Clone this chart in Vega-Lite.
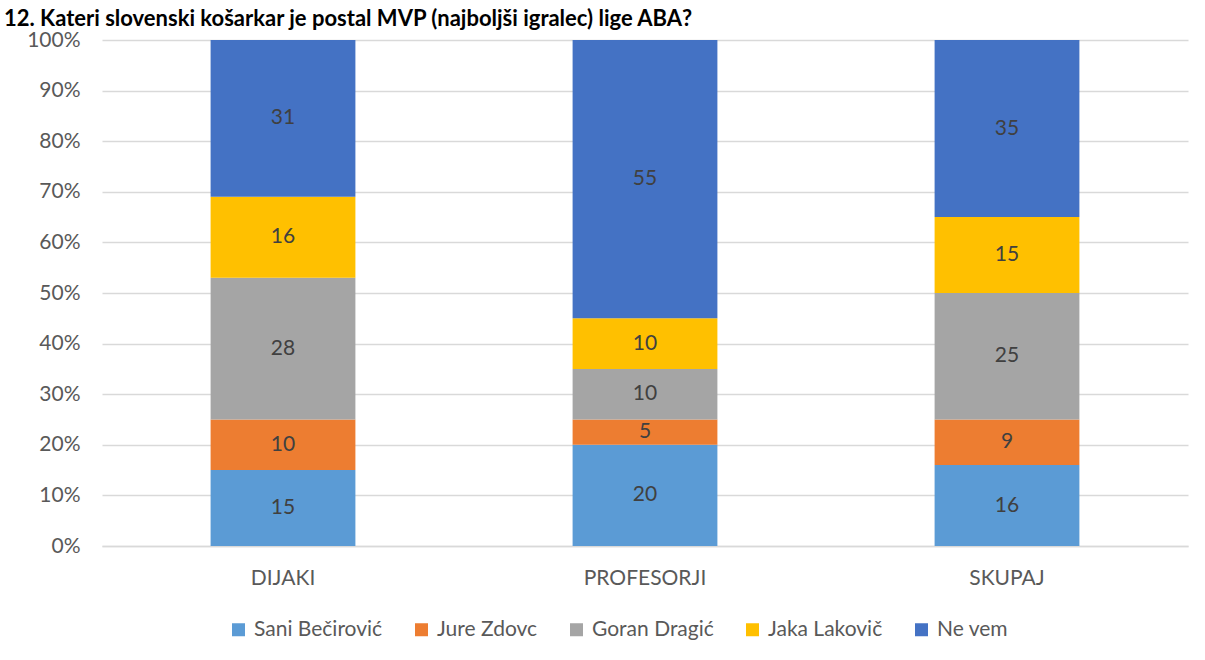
{
  "$schema": "https://vega.github.io/schema/vega-lite/v6.json",
  "width": 1086,
  "height": 506,
  "autosize": {"type": "none"},
  "padding": {"left": 102, "top": 40, "right": 17, "bottom": 114},
  "background": "white",
  "title": {
    "text": "12. Kateri slovenski košarkar je postal MVP (najboljši igralec) lige ABA?",
    "anchor": "start",
    "frame": "group",
    "dx": -98,
    "offset": 0,
    "dy": 19,
    "baseline": "alphabetic",
    "font": "Lato",
    "fontSize": 22,
    "fontWeight": "bold",
    "color": "#000000"
  },
  "config": {
    "view": {"stroke": null},
    "font": "Lato"
  },
  "data": {
    "values": [
      {"skupina": "DIJAKI", "odgovor": "Sani Bečirović", "o": 1, "n": 15},
      {"skupina": "DIJAKI", "odgovor": "Jure Zdovc", "o": 2, "n": 10},
      {"skupina": "DIJAKI", "odgovor": "Goran Dragić", "o": 3, "n": 28},
      {"skupina": "DIJAKI", "odgovor": "Jaka Lakovič", "o": 4, "n": 16},
      {"skupina": "DIJAKI", "odgovor": "Ne vem", "o": 5, "n": 31},
      {"skupina": "PROFESORJI", "odgovor": "Sani Bečirović", "o": 1, "n": 20},
      {"skupina": "PROFESORJI", "odgovor": "Jure Zdovc", "o": 2, "n": 5},
      {"skupina": "PROFESORJI", "odgovor": "Goran Dragić", "o": 3, "n": 10},
      {"skupina": "PROFESORJI", "odgovor": "Jaka Lakovič", "o": 4, "n": 10},
      {"skupina": "PROFESORJI", "odgovor": "Ne vem", "o": 5, "n": 55},
      {"skupina": "SKUPAJ", "odgovor": "Sani Bečirović", "o": 1, "n": 16},
      {"skupina": "SKUPAJ", "odgovor": "Jure Zdovc", "o": 2, "n": 9},
      {"skupina": "SKUPAJ", "odgovor": "Goran Dragić", "o": 3, "n": 25},
      {"skupina": "SKUPAJ", "odgovor": "Jaka Lakovič", "o": 4, "n": 15},
      {"skupina": "SKUPAJ", "odgovor": "Ne vem", "o": 5, "n": 35}
    ]
  },
  "encoding": {
    "x": {
      "field": "skupina",
      "type": "nominal",
      "sort": ["DIJAKI", "PROFESORJI", "SKUPAJ"],
      "scale": {"paddingInner": 0.6, "paddingOuter": 0.3},
      "axis": {
        "title": null,
        "labelAngle": 0,
        "ticks": false,
        "labelPadding": 21,
        "labelFontSize": 21,
        "labelColor": "#595959",
        "domainColor": "#d9d9d9",
        "domainWidth": 1.3,
        "grid": false
      }
    },
    "y": {
      "field": "n",
      "type": "quantitative",
      "stack": "normalize",
      "scale": {"domain": [0, 1]},
      "axis": {
        "title": null,
        "format": ".0%",
        "values": [0, 0.1, 0.2, 0.3, 0.4, 0.5, 0.6, 0.7, 0.8, 0.9, 1],
        "ticks": false,
        "domain": false,
        "labelPadding": 22,
        "labelFontSize": 21,
        "labelColor": "#595959",
        "gridColor": "#d9d9d9",
        "gridWidth": 1.3
      }
    },
    "order": {"field": "o", "type": "quantitative"}
  },
  "layer": [
    {
      "mark": {"type": "bar"},
      "encoding": {
        "color": {
          "field": "odgovor",
          "type": "nominal",
          "sort": ["Sani Bečirović", "Jure Zdovc", "Goran Dragić", "Jaka Lakovič", "Ne vem"],
          "scale": {
            "domain": ["Sani Bečirović", "Jure Zdovc", "Goran Dragić", "Jaka Lakovič", "Ne vem"],
            "range": ["#5B9BD5", "#ED7D31", "#A5A5A5", "#FFC000", "#4472C4"]
          },
          "legend": {
            "title": null,
            "orient": "none",
            "direction": "horizontal",
            "legendX": 126,
            "legendY": 579,
            "symbolType": "square",
            "symbolSize": 169,
            "symbolStrokeWidth": 0,
            "symbolOpacity": 1,
            "labelFontSize": 21,
            "labelColor": "#595959",
            "labelOffset": 5,
            "columnPadding": 28
          }
        }
      }
    },
    {
      "mark": {"type": "text", "fontSize": 21, "color": "#404040"},
      "encoding": {
        "y": {"field": "n", "type": "quantitative", "stack": "normalize", "bandPosition": 0.5},
        "text": {"field": "n", "type": "quantitative"}
      }
    }
  ]
}
